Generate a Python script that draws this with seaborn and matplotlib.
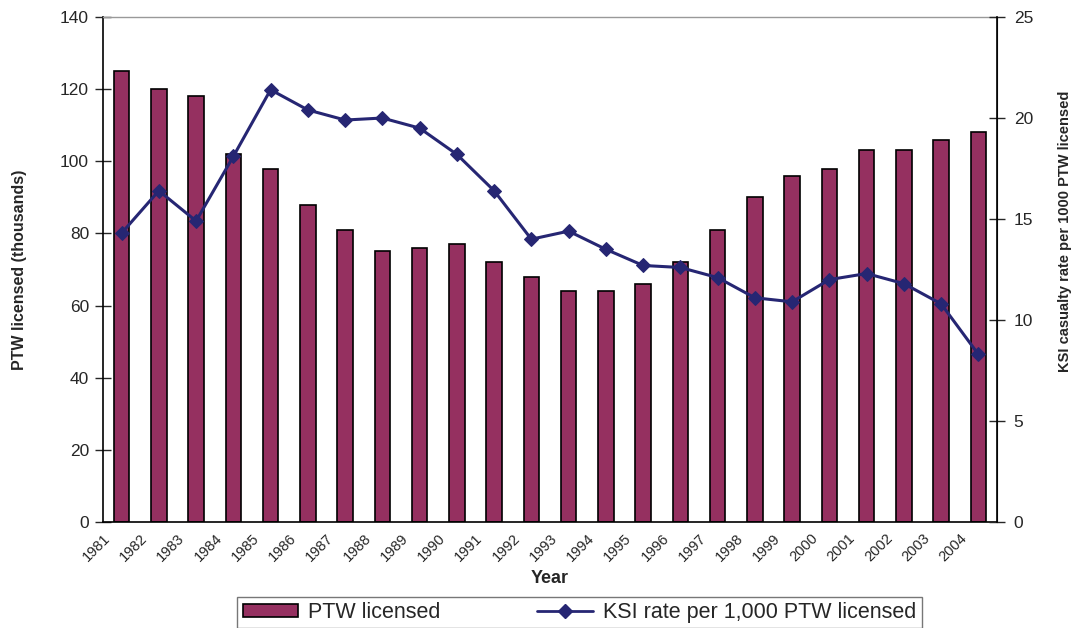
import matplotlib
matplotlib.use("Agg")
import matplotlib.pyplot as plt
import seaborn as sns
import pandas as pd
import numpy as np
from matplotlib.patches import Patch
from matplotlib.lines import Line2D

# --- data ---
YEARS = [str(y) for y in range(1981, 2005)]
PTW_LICENSED = [125, 120, 118, 102, 98, 88, 81, 75, 76, 77, 72, 68,
                64, 64, 66, 72, 81, 90, 96, 98, 103, 103, 106, 108]
KSI_RATE = [14.3, 16.4, 14.9, 18.1, 21.4, 20.4, 19.9, 20.0, 19.5, 18.2, 16.4, 14.0,
            14.4, 13.5, 12.7, 12.6, 12.1, 11.1, 10.9, 12.0, 12.3, 11.8, 10.8, 8.3]

BAR_COLOR = '#953060'
LINE_COLOR = '#262673'

sns.set_style("white")
plt.rcParams['font.family'] = ['Liberation Sans', 'DejaVu Sans']

df = pd.DataFrame({'year': YEARS, 'ptw': PTW_LICENSED, 'ksi': KSI_RATE})
df['pos'] = np.arange(len(df))

fig = plt.figure(figsize=(10.77, 6.28), dpi=100)
ax = fig.add_axes([0.0956, 0.1688, 0.8301, 0.8041])

sns.barplot(data=df, x='year', y='ptw', color=BAR_COLOR, saturation=1,
            width=0.42, edgecolor='black', linewidth=1.2, ax=ax)

ax.set_xlim(-0.5, len(df) - 0.5)
ax.set_ylim(0, 140)
ax.set_yticks(range(0, 141, 20))
ax.set_xticks(np.arange(len(df) + 1) - 0.5)
ax.set_xticklabels(YEARS + [''], rotation=45, ha='right', rotation_mode='anchor',
                   fontsize=10.5)
ax.tick_params(axis='y', labelsize=12.5, direction='inout', length=12, width=1, pad=4)
ax.tick_params(axis='x', direction='inout', length=9, width=1, pad=2)
ax.set_xlabel('Year', fontsize=13, fontweight='bold', labelpad=4)
ax.set_ylabel('PTW licensed (thousands)', fontsize=11.5, fontweight='bold',
              labelpad=24)

for side in ['left', 'bottom']:
    ax.spines[side].set_color('black')
    ax.spines[side].set_linewidth(1.2)
ax.spines['top'].set_color('#999999')
ax.spines['top'].set_linewidth(1)

ax2 = ax.twinx()
sns.lineplot(data=df, x='pos', y='ksi', color=LINE_COLOR, linewidth=2.2,
             marker='D', markersize=7.5, markeredgecolor=LINE_COLOR, ax=ax2)
ax2.set_ylim(0, 25)
ax2.set_yticks(range(0, 26, 5))
ax2.set_xlim(-0.5, len(df) - 0.5)
ax2.tick_params(axis='y', labelsize=12.5, direction='inout', length=12, width=1, pad=6)
ax2.set_ylabel('KSI casualty rate per 1000 PTW licensed', fontsize=10.5,
               fontweight='bold')
ax2.yaxis.set_label_coords(1.068, 0.575)
ax2.spines['right'].set_color('black')
ax2.spines['right'].set_linewidth(1.2)
ax2.spines['top'].set_visible(False)
ax2.spines['left'].set_visible(False)
ax2.spines['bottom'].set_visible(False)
ax2.set_xlabel('')

handles = [Patch(facecolor=BAR_COLOR, edgecolor='black', linewidth=1.2),
           Line2D([], [], color=LINE_COLOR, linewidth=2, marker='D', markersize=7)]
leg = fig.legend(handles, ['PTW licensed', 'KSI rate per 1,000 PTW licensed'],
                 loc='upper center', bbox_to_anchor=(0.538, 0.05), ncol=2,
                 fontsize=15.5, frameon=True, fancybox=False, edgecolor='#555555',
                 handlelength=2.6, handleheight=0.6, handletextpad=0.45,
                 columnspacing=4.5, borderpad=0.25, borderaxespad=0)
leg.get_frame().set_linewidth(1)

fig.savefig('out.png', dpi=100)
